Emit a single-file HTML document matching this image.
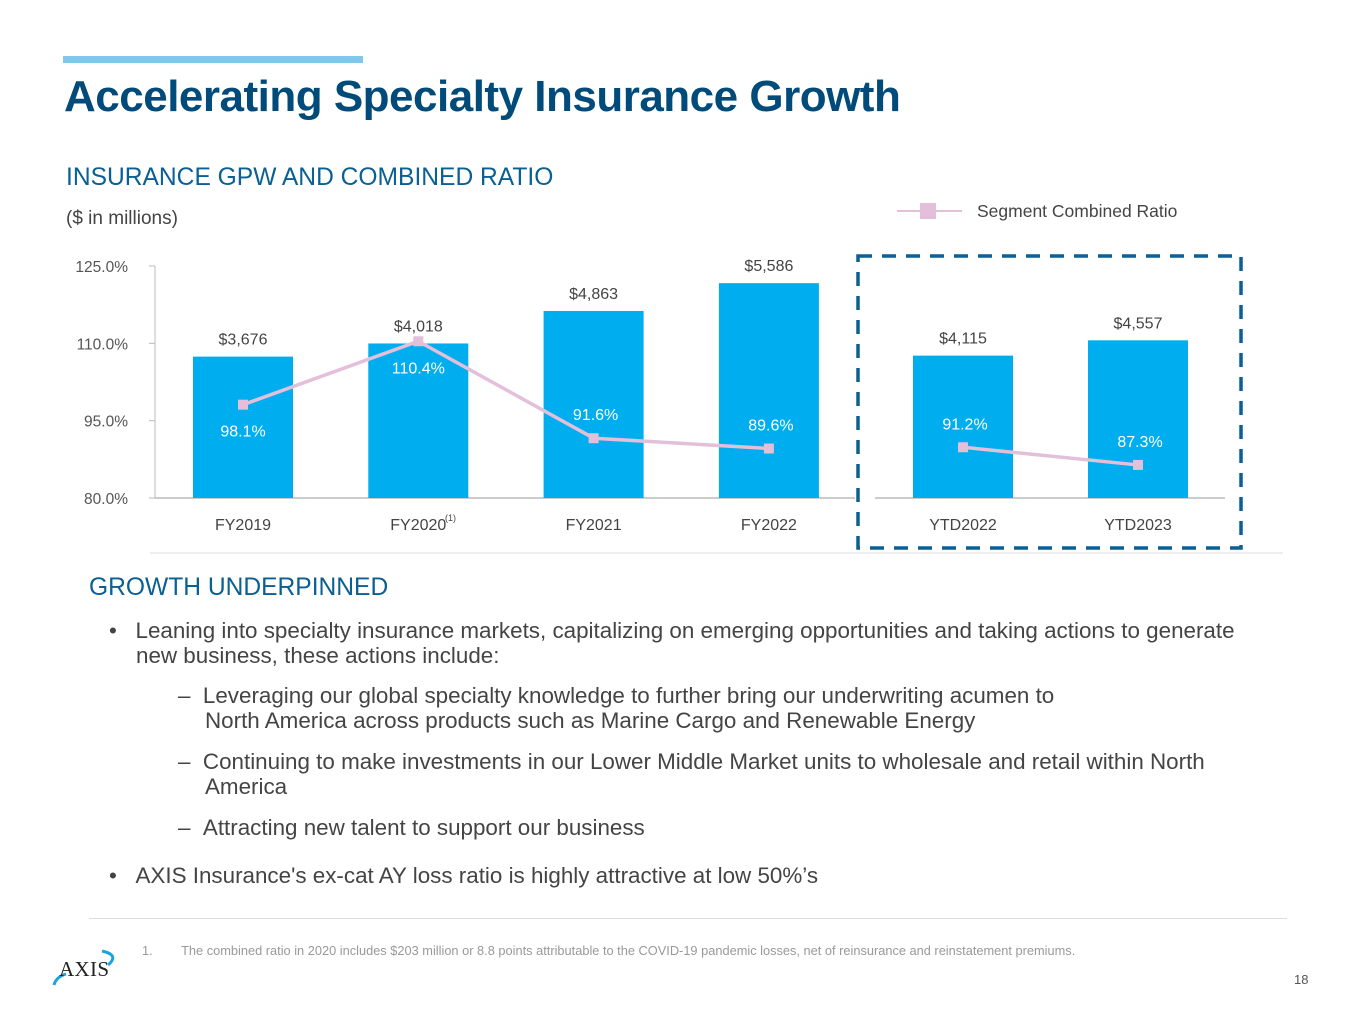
<!DOCTYPE html>
<html><head><meta charset="utf-8"><style>
body{margin:0;width:1365px;height:1022px;background:#fff;position:relative;overflow:hidden;font-family:"Liberation Sans",sans-serif;}
.a{position:absolute;white-space:nowrap;}
.t{color:#444;font-size:22.4px;}
</style></head><body>
<div class="a" style="left:63px;top:56px;width:300px;height:7px;background:#7fc8eb"></div>
<div class="a" style="left:64px;top:72px;font-size:44px;font-weight:bold;color:#004b7a;letter-spacing:-0.5px">Accelerating Specialty Insurance Growth</div>
<div class="a" style="left:66px;top:164px;font-size:24.6px;color:#0a5f93">INSURANCE GPW AND COMBINED RATIO</div>
<div class="a" style="left:66px;top:208px;font-size:19px;color:#444">($ in millions)</div>

<svg class="a" style="left:0;top:0" width="1365" height="570">
<g id="chart"></g>
</svg>

<div class="a" style="left:89px;top:574px;font-size:24.6px;color:#0a5f93">GROWTH UNDERPINNED</div>
<div class="a t" style="left:109px;top:618px">•&nbsp;&nbsp;&nbsp;Leaning into specialty insurance markets, capitalizing on emerging opportunities and taking actions to generate</div>
<div class="a t" style="left:136px;top:643px">new business, these actions include:</div>
<div class="a t" style="left:178px;top:683px">–&nbsp;&nbsp;Leveraging our global specialty knowledge to further bring our underwriting acumen to</div>
<div class="a t" style="left:205px;top:708px">North America across products such as Marine Cargo and Renewable Energy</div>
<div class="a t" style="left:178px;top:749px">–&nbsp;&nbsp;Continuing to make investments in our Lower Middle Market units to wholesale and retail within North</div>
<div class="a t" style="left:205px;top:774px">America</div>
<div class="a t" style="left:178px;top:815px">–&nbsp;&nbsp;Attracting new talent to support our business</div>
<div class="a t" style="left:109px;top:863px">•&nbsp;&nbsp;&nbsp;AXIS Insurance's ex-cat AY loss ratio is highly attractive at low 50%’s</div>
<div class="a" style="left:89px;top:918px;width:1198px;height:1px;background:#ddd"></div>
<div class="a" style="left:142px;top:943px;font-size:12.8px;color:#999">1.&nbsp;&nbsp;&nbsp;&nbsp;&nbsp;&nbsp;&nbsp;&nbsp;The combined ratio in 2020 includes $203 million or 8.8 points attributable to the COVID-19 pandemic losses, net of reinsurance and reinstatement premiums.</div>
<svg class="a" style="left:50px;top:945px" width="70" height="45">
<path d="M52 6 Q70 10 58 20" stroke="#1aa3e0" stroke-width="3" fill="none"/>
<path d="M4 40 Q6 32 16 29" stroke="#1aa3e0" stroke-width="3" fill="none"/>
<text x="9" y="31" font-family="Liberation Serif" font-size="21" fill="#222" textLength="50">AXIS</text>
</svg>
<div class="a" style="left:1294px;top:972px;font-size:13px;color:#555">18</div>

<script>
const categories=["FY2019","FY2020","FY2021","FY2022","YTD2022","YTD2023"];
const gpw=[3676,4018,4863,5586,4115,4557];
const ratio=[98.1,110.4,91.6,89.6,91.2,87.3];
const ratioLabels=["98.1%","110.4%","91.6%","89.6%","91.2%","87.3%"];
const yTicks=[80,95,110,125];
const NS="http://www.w3.org/2000/svg";
const g=document.getElementById('chart');
function el(tag,at,txt){const e=document.createElementNS(NS,tag);for(const k in at)e.setAttribute(k,at[k]);if(txt!=null)e.textContent=txt;g.appendChild(e);return e;}
const y0=498,yTop=266;
function yR(v,i){return y0-(v-80)*((i==null||i<4)?(y0-yTop)/45:4.53);}
function yG(v,i){return y0-v/(i<4?26.0:28.9);}
function xC(i){return i<4?243+i*175.3:963+(i-4)*175;}
let e=el('line',{x1:155,y1:266,x2:155,y2:498,stroke:'#bbb'});

e=el('line',{x1:155,y1:498,x2:855,y2:498,stroke:'#bbb','stroke-width':1.5});

e=el('line',{x1:875,y1:498,x2:1225,y2:498,stroke:'#bbb','stroke-width':1.5});

el('line',{x1:150,y1:553,x2:1283,y2:553,stroke:'#ddd'});
yTicks.forEach(t=>{
 el('line',{x1:149,y1:yR(t),x2:155,y2:yR(t),stroke:'#bbb'});
 e=el('text',{x:128,y:yR(t)+6,'text-anchor':'end','font-size':15.5,fill:'#555'},t.toFixed(1)+'%');
 
});
categories.forEach((c,i)=>{
 const x=xC(i),yt=yG(gpw[i],i);
 e=el('rect',{x:x-50,y:yt,width:100,height:y0-yt,fill:'#00aeef'});
 
 e=el('text',{x:x,y:yt-12,'text-anchor':'middle','font-size':16,fill:'#444'},'$'+gpw[i].toLocaleString('en-US'));
 
 e=el('text',{x:x,y:530,'text-anchor':'middle','font-size':16,fill:'#444'},c);
 
});
el('text',{x:445,y:521,'font-size':9,fill:'#444'},'(1)');
function seg(a,b){
 for(let i=a;i<b;i++){
  e=el('line',{x1:xC(i),y1:yR(ratio[i],i),x2:xC(i+1),y2:yR(ratio[i+1],i+1),stroke:'#e3bfd9','stroke-width':3.5});
  
 }
}
seg(0,3);seg(4,5);
ratio.forEach((r,i)=>{
 const x=xC(i),y=yR(r,i);
 e=el('rect',{x:x-5,y:y-5,width:10,height:10,fill:'#e3bfd9'});
 
 const below=ratio[i]>=95;
 e=el('text',{x:x+(i>=2?2:0),y:below?y+32:y-18,'text-anchor':'middle','font-size':16,fill:'#fff'},ratioLabels[i]);
 
});
el('line',{x1:897,y1:211,x2:962,y2:211,stroke:'#e3bfd9','stroke-width':2});
el('rect',{x:920,y:203,width:16,height:16,fill:'#e3bfd9'});
e=el('text',{x:977,y:217,'font-size':17.5,fill:'#444'},'Segment Combined Ratio');

e=el('rect',{x:858,y:256,width:383,height:292,fill:'none',stroke:'#0a5f93','stroke-width':3.5,'stroke-dasharray':'14,10'});

</script>
</body></html>
